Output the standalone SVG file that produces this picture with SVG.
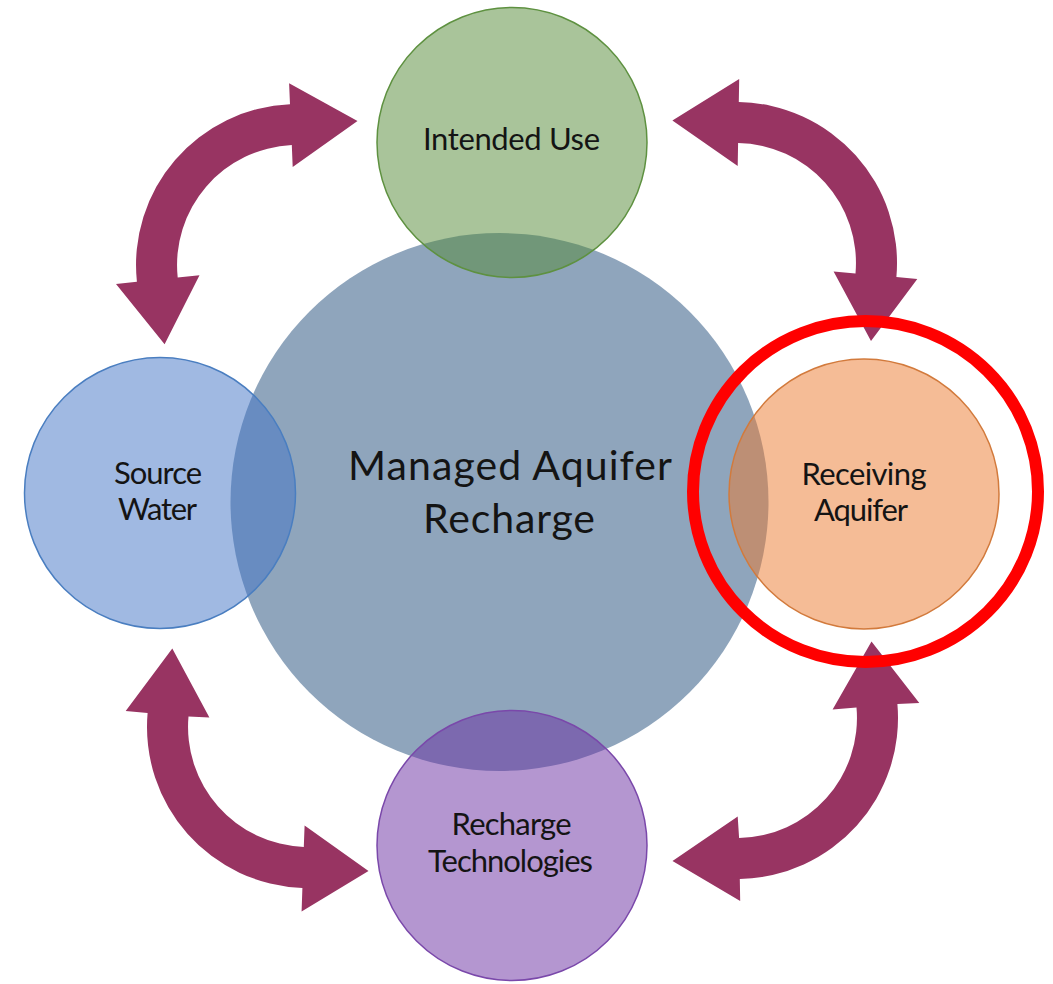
<svg xmlns="http://www.w3.org/2000/svg" width="1053" height="984" viewBox="0 0 1053 984">
  <style>
    .lbl { font-family: Lato, "Open Sans", "Liberation Sans", sans-serif; font-size: 31px; fill: #141414; text-anchor: middle; }
    .big { font-family: Lato, "Open Sans", "Liberation Sans", sans-serif; font-size: 41px; fill: #141414; text-anchor: middle; }
    .arrow { fill: #983462; }
    .node { stroke-width: 1.5; }
  </style>
  <rect width="1053" height="984" fill="#ffffff"/>

  <g id="center-node">
    <circle cx="499.5" cy="502" r="269" fill="#8FA5BC"/>
  </g>

  <g id="intended-use">
    <circle class="node" cx="512" cy="142.5" r="135" fill="#538935" fill-opacity="0.5" stroke="#5E9140"/>
    <text class="lbl" x="511.5" y="150" textLength="177">Intended Use</text>
  </g>

  <g id="source-water">
    <circle class="node" cx="160" cy="493" r="135.5" fill="#4173C5" fill-opacity="0.5" stroke="#4A7EC0"/>
    <text class="lbl" x="158" y="484" textLength="88">Source</text>
    <text class="lbl" x="157.5" y="520" textLength="79">Water</text>
  </g>

  <g id="receiving-aquifer">
    <circle class="node" cx="864" cy="494" r="135" fill="#EB792D" fill-opacity="0.5" stroke="#D27A3C"/>
    <text class="lbl" x="864" y="485" textLength="125">Receiving</text>
    <text class="lbl" x="861" y="520.5" textLength="94">Aquifer</text>
  </g>

  <g id="recharge-technologies">
    <circle class="node" cx="512" cy="845.5" r="135" fill="#692DA1" fill-opacity="0.5" stroke="#7A48AA"/>
    <text class="lbl" x="511.5" y="834.5" textLength="120">Recharge</text>
    <text class="lbl" x="510.5" y="871.5" textLength="165">Technologies</text>
  </g>

  <g id="center-label">
    <text class="big" x="510" y="480" textLength="324">Managed Aquifer</text>
    <text class="big" x="509" y="533" textLength="172">Recharge</text>
  </g>

  <g id="connectors">
    <path class="arrow" d="M 164.6 344.2 L 116.0 284.0 L 136.9 281.8 A 161 161 0 0 1 290.0 104.2 L 289.1 83.2 L 357.5 121 L 292.7 167.1 L 291.8 145.1 A 120 120 0 0 0 177.7 277.5 L 199.5 275.2 Z"/>
    <path class="arrow" d="M 672.4 120.5 L 739.2 79.0 L 738.8 102.0 A 161 161 0 0 1 896.4 277.0 L 917.3 278.9 L 871 341.0 L 833.6 271.5 L 855.5 273.5 A 120 120 0 0 0 738.1 143.0 L 737.7 166.0 Z"/>
    <path class="arrow" d="M 368.5 871 L 301.6 911.5 L 302.4 887.9 A 161 161 0 0 1 147.6 713.0 L 125.7 711.1 L 172.3 648.5 L 209.4 717.5 L 188.5 716.5 A 120 120 0 0 0 303.8 846.9 L 304.6 825.5 Z"/>
    <path class="arrow" d="M 871.5 641.5 L 919.3 703.1 L 897.4 704.0 A 161 161 0 0 1 739.8 879.0 L 740.2 901.0 L 672.5 861 L 737.7 816.5 L 739.1 838.0 A 120 120 0 0 0 856.5 707.5 L 832.6 709.5 Z"/>
  </g>

  <g id="highlight">
    <ellipse cx="865.5" cy="491.5" rx="172.5" ry="170.5" fill="none" stroke="#FF0000" stroke-width="12"/>
  </g>
</svg>
